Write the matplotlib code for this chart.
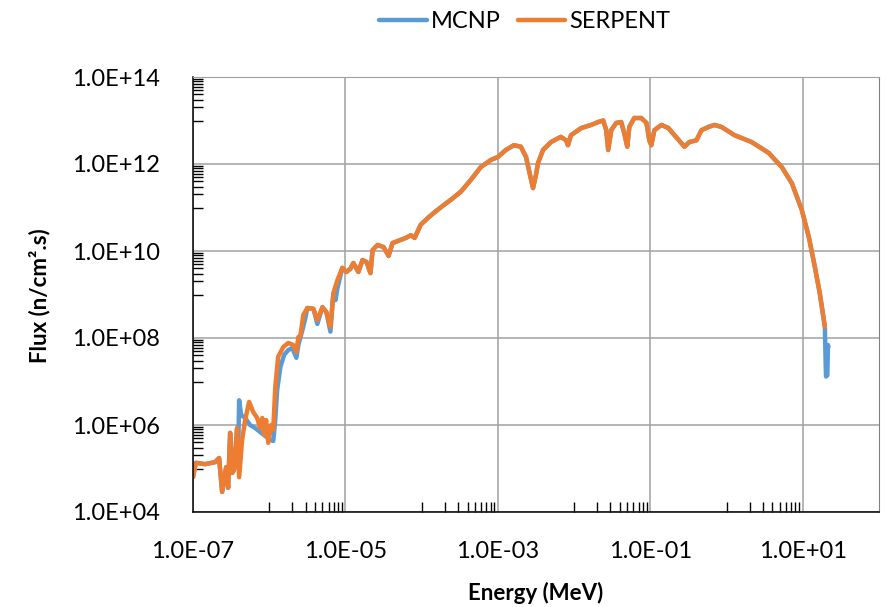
import numpy as np
import matplotlib
matplotlib.use("Agg")
import matplotlib.pyplot as plt
from matplotlib.ticker import FixedLocator, NullFormatter, FuncFormatter

plt.rcParams['font.family'] = ['Lato', 'DejaVu Sans']

# ---------------- DATA ----------------
# neutron flux spectrum, energy in MeV, flux in n/cm2.s
serpent_e = [1.0e-7, 1.09e-7, 1.44e-7, 1.95e-7, 2.2e-7, 2.41e-7, 2.72e-7, 2.89e-7,
             3.07e-7, 3.26e-7, 3.46e-7, 3.79e-7, 4.03e-7, 4.41e-7, 4.83e-7, 5.45e-7,
             6.15e-7, 6.95e-7, 7.6e-7, 8.1e-7, 8.6e-7, 9.1e-7, 9.7e-7, 1.06e-6,
             1.13e-6, 1.2e-6, 1.31e-6, 1.53e-6, 1.78e-6, 2.07e-6, 2.27e-6, 2.41e-6,
             2.56e-6, 2.8e-6, 3.16e-6, 3.8e-6, 4.28e-6, 4.98e-6, 5.6e-6, 6.35e-6,
             6.95e-6, 7.85e-6, 9.1e-6, 1.03e-5, 1.16e-5, 1.27e-5, 1.48e-5, 1.67e-5,
             1.89e-5, 2.13e-5, 2.27e-5, 2.64e-5, 3.16e-5, 3.68e-5, 4.15e-5, 5.3e-5,
             6.2e-5, 7.2e-5, 8.1e-5, 9.7e-5, 1.2e-4, 1.44e-4, 1.95e-4, 2.41e-4,
             3.26e-4, 4.41e-4, 5.97e-4, 8.1e-4, 1.0e-3, 1.27e-3, 1.62e-3, 2.0e-3,
             2.34e-3, 2.64e-3, 2.89e-3, 3.16e-3, 3.36e-3, 3.91e-3, 4.98e-3, 6.7e-3,
             7.85e-3, 8.3e-3, 9.1e-3, 1.24e-2, 1.67e-2, 2.07e-2, 2.41e-2, 2.64e-2,
             2.8e-2, 3.07e-2, 3.57e-2, 4.15e-2, 4.55e-2, 4.98e-2, 5.3e-2, 6.15e-2,
             7.6e-2, 8.9e-2, 9.7e-2, 0.103, 0.113, 0.140, 0.173, 0.207,
             0.256, 0.28, 0.326, 0.403, 0.469, 0.58, 0.695, 0.86,
             1.27, 2.13, 3.57, 5.3, 7.2, 9.7, 12.0, 14.4,
             16.7, 19.5]
serpent_flux = [6.3e4, 1.35e5, 1.26e5, 1.4e5, 1.74e5, 2.9e4, 1.07e5, 3.6e4,
                6.6e5, 7.9e4, 9.3e4, 8.5e5, 6.3e4, 4.5e5, 1.3e6, 3.4e6,
                2.0e6, 1.45e6, 8.5e5, 1.45e6, 5.9e5, 1.3e6, 3.9e5, 1.0e6,
                7.8e5, 7.4e6, 3.7e7, 6.2e7, 7.7e7, 6.9e7, 4.8e7, 1.05e8,
                1.1e8, 3.4e8, 4.9e8, 4.7e8, 2.6e8, 5.1e8, 4.0e8, 1.8e8,
                1.08e9, 2.15e9, 4.1e9, 3.3e9, 3.9e9, 5.3e9, 3.3e9, 6.2e9,
                5.6e9, 3.1e9, 1.05e10, 1.38e10, 1.23e10, 7.7e9, 1.52e10, 1.8e10,
                2.0e10, 2.3e10, 2.0e10, 4.0e10, 5.7e10, 7.5e10, 1.14e11, 1.5e11,
                2.3e11, 4.3e11, 8.5e11, 1.24e12, 1.45e12, 2.1e12, 2.7e12, 2.5e12,
                1.45e12, 5.6e11, 2.8e11, 5.6e11, 1.05e12, 2.1e12, 3.2e12, 4.2e12,
                3.5e12, 2.7e12, 4.6e12, 6.7e12, 7.9e12, 9.2e12, 1.0e13, 6.0e12,
                2.1e12, 6.0e12, 8.8e12, 9.2e12, 5.1e12, 2.5e12, 7.1e12, 1.14e13,
                1.14e13, 8.8e12, 3.5e12, 2.7e12, 6.0e12, 7.9e12, 6.7e12, 4.6e12,
                3.0e12, 2.5e12, 3.2e12, 3.5e12, 6.0e12, 7.1e12, 7.9e12, 7.1e12,
                4.6e12, 3.2e12, 1.8e12, 8.5e11, 3.6e11, 8.8e10, 2.1e10, 4.3e9,
                1.08e9, 1.8e8]

# MCNP differs from SERPENT below ~3 eV and past 19.5 MeV
mcnp_low_e = [1.0e-7, 1.09e-7, 1.44e-7, 1.95e-7, 2.2e-7, 2.41e-7, 2.72e-7, 2.89e-7,
              3.07e-7, 3.26e-7, 3.46e-7, 3.79e-7, 3.91e-7, 4.03e-7, 4.28e-7, 4.83e-7,
              5.6e-7, 6.55e-7, 7.6e-7, 8.9e-7, 1.03e-6, 1.13e-6, 1.2e-6, 1.27e-6,
              1.4e-6, 1.57e-6, 1.78e-6, 2.01e-6, 2.27e-6, 2.41e-6, 2.72e-6, 2.98e-6]
mcnp_low_flux = [6.3e4, 1.35e5, 1.26e5, 1.4e5, 1.74e5, 2.9e4, 1.07e5, 3.6e4,
                 6.6e5, 7.9e4, 9.3e4, 8.5e5, 2.0e5, 3.7e6, 1.7e6, 1.45e6,
                 1.0e6, 8.5e5, 6.9e5, 5.6e5, 4.5e5, 4.3e5, 1.3e6, 6.3e6,
                 2.15e7, 4.1e7, 5.3e7, 5.9e7, 3.5e7, 6.9e7, 1.5e8, 2.9e8]
mcnp_dip_e = [4.28e-6, 6.35e-6, 7.4e-6, 7.85e-6]
mcnp_dip_flux = [2.1e8, 1.4e8, 7.4e8, 1.4e9]
mcnp_tail_e = [20.0, 20.2, 21.0, 21.4, 21.6]
mcnp_tail_flux = [2.2e7, 1.3e7, 1.4e7, 6.9e7, 6.2e7]

# assemble the MCNP series from the shared middle part
s_e = np.array(serpent_e)
s_f = np.array(serpent_flux)
mid = s_e > mcnp_low_e[-1]
mcnp_e = np.concatenate([mcnp_low_e, s_e[mid], mcnp_dip_e, mcnp_tail_e])
mcnp_flux = np.concatenate([mcnp_low_flux, s_f[mid], mcnp_dip_flux, mcnp_tail_flux])
order = np.argsort(mcnp_e, kind="stable")
mcnp_e, mcnp_flux = mcnp_e[order], mcnp_flux[order]
# drop SERPENT points where an MCNP dip replaces them
keep = np.ones(len(mcnp_e), bool)
for d in mcnp_dip_e:
    idx = np.where(np.isclose(mcnp_e, d))[0]
    if len(idx) > 1:
        keep[idx[0]] = False
mcnp_e, mcnp_flux = mcnp_e[keep], mcnp_flux[keep]

# ---------------- PLOT ----------------
fig = plt.figure(figsize=(8.87, 6.07), dpi=100)
ax = fig.add_axes([193 / 887, 95 / 607, 686 / 887, 435 / 607])

ax.plot(mcnp_e, mcnp_flux, color="#5B9BD5", lw=3.2, label="MCNP",
        solid_joinstyle="round", solid_capstyle="round")
ax.plot(serpent_e, serpent_flux, color="#ED7D31", lw=3.2, label="SERPENT",
        solid_joinstyle="round", solid_capstyle="round")

ax.set_xscale("log")
ax.set_yscale("log")
ax.set_xlim(1e-7, 1e2)
ax.set_ylim(1e4, 1e14)

x_major = [10.0 ** p for p in range(-7, 2, 2)]
y_major = [10.0 ** p for p in range(4, 15, 2)]
x_minor = [k * 10.0 ** p for p in range(-6, 3, 2) for k in range(1, 10)]
y_minor = [k * 10.0 ** p for p in range(5, 14, 2) for k in range(1, 10)]

ax.xaxis.set_major_locator(FixedLocator(x_major))
ax.yaxis.set_major_locator(FixedLocator(y_major))
ax.xaxis.set_minor_locator(FixedLocator([v for v in x_minor if v < 1e2]))
ax.yaxis.set_minor_locator(FixedLocator(y_minor))
ax.xaxis.set_minor_formatter(NullFormatter())
ax.yaxis.set_minor_formatter(NullFormatter())

def sci_label(v, pos):
    exp = int(round(np.log10(v)))
    return f"1.0E{'+' if exp >= 0 else '-'}{abs(exp):02d}"

ax.xaxis.set_major_formatter(FuncFormatter(sci_label))
ax.yaxis.set_major_formatter(FuncFormatter(sci_label))

ax.tick_params(which="major", length=0, labelsize=17, colors="#000000")
ax.tick_params(axis="x", which="major", pad=21)
ax.tick_params(axis="y", which="major", pad=24)
ax.tick_params(which="minor", direction="in", length=7, width=1, color="#000000")
ax.tick_params(axis="x", which="minor", top=False)
ax.tick_params(axis="y", which="minor", right=False)

ax.grid(True, which="major", color="#a0a0a0", lw=1.1)
ax.set_axisbelow(True)

ax.spines["left"].set_color("#000000")
ax.spines["bottom"].set_color("#000000")
ax.spines["left"].set_linewidth(1.1)
ax.spines["bottom"].set_linewidth(1.1)
ax.spines["top"].set_color("#a0a0a0")
ax.spines["right"].set_color("#808080")

fig.text(40 / 887, 1 - 296 / 607, "Flux (n/cm\u00b2.s)", rotation=90,
         ha="center", va="center", fontsize=16, fontweight="bold")
fig.text(536 / 887, 1 - 593 / 607, "Energy (MeV)", ha="center", va="center",
         fontsize=16, fontweight="bold")

fig.legend(loc="center", bbox_to_anchor=(525 / 887, 1 - 22 / 607), ncol=2,
           frameon=False, fontsize=17, handlelength=2.0, handletextpad=0.2,
           columnspacing=0.7)

fig.savefig("out.png", dpi=100)
